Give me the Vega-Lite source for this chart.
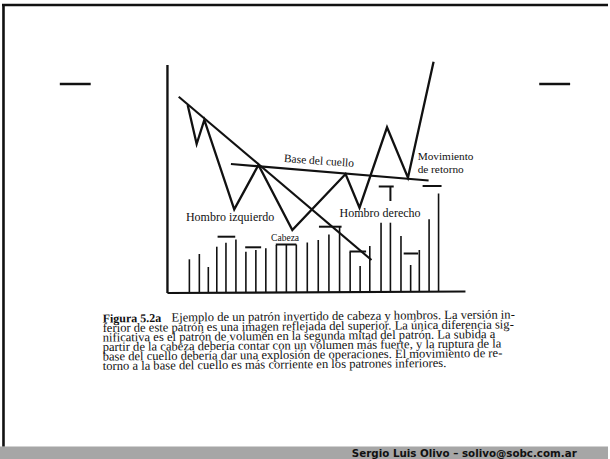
{
  "$schema": "https://vega.github.io/schema/vega-lite/v6.json",
  "width": 610,
  "height": 459,
  "autosize": {"type": "fit", "contains": "padding"},
  "padding": 0,
  "background": "white",
  "config": {"view": {"stroke": null}},
  "layer": [
    {
      "data": {"values": [{"x": 0, "x2": 610, "y": 446.5, "y2": 459}]},
      "mark": {"type": "rect", "color": "#a6a6a6"},
      "encoding": {
        "x": {"field": "x", "type": "quantitative", "scale": {"domain": [0, 610], "nice": false, "zero": false}, "axis": null},
        "x2": {"field": "x2"},
        "y": {"field": "y", "type": "quantitative", "scale": {"domain": [0, 459], "reverse": true, "nice": false, "zero": false}, "axis": null},
        "y2": {"field": "y2"}
      }
    },
    {
      "data": {"values": [
        {"kind": "marco", "x": 2, "y": 5, "x2": 610, "y2": 5},
        {"kind": "marco", "x": 3.5, "y": 5, "x2": 3.5, "y2": 446.5},
        {"kind": "guion", "x": 60, "y": 84, "x2": 91, "y2": 84},
        {"kind": "guion", "x": 541, "y": 84, "x2": 572, "y2": 84},
        {"kind": "eje", "x": 168, "y": 65, "x2": 168, "y2": 293},
        {"kind": "base", "x": 168, "y": 293, "x2": 467, "y2": 291.5},
        {"kind": "tendencia", "x": 179.3, "y": 96.7, "x2": 372.7, "y2": 260},
        {"kind": "tendencia", "x": 231.7, "y": 164, "x2": 430, "y2": 180.5},
        {"kind": "volumen", "x": 218.3, "y": 236.7, "x2": 236, "y2": 236.7},
        {"kind": "volumen", "x": 246, "y": 247.3, "x2": 262, "y2": 247.3},
        {"kind": "volumen", "x": 276.7, "y": 244.5, "x2": 297.3, "y2": 244.5},
        {"kind": "volumen", "x": 320, "y": 226.7, "x2": 342.7, "y2": 226.7},
        {"kind": "volumen", "x": 350.7, "y": 251.5, "x2": 367.3, "y2": 251.5},
        {"kind": "volumen", "x": 380, "y": 186.5, "x2": 395, "y2": 186.5},
        {"kind": "volumen", "x": 391.7, "y": 186.5, "x2": 391.7, "y2": 201},
        {"kind": "volumen", "x": 405, "y": 253.5, "x2": 419.5, "y2": 253.5},
        {"kind": "volumen", "x": 424, "y": 186, "x2": 443, "y2": 186}
      ]},
      "mark": {"type": "rule", "color": "#111111", "strokeCap": "butt"},
      "encoding": {
        "x": {"field": "x", "type": "quantitative", "scale": {"domain": [0, 610], "nice": false, "zero": false}, "axis": null},
        "x2": {"field": "x2"},
        "y": {"field": "y", "type": "quantitative", "scale": {"domain": [0, 459], "reverse": true, "nice": false, "zero": false}, "axis": null},
        "y2": {"field": "y2"},
        "strokeWidth": {"field": "kind", "type": "nominal", "legend": null,
          "scale": {"domain": ["marco", "guion", "eje", "base", "tendencia", "volumen"], "range": [2.6, 2, 1.4, 2, 2, 1.6]}}
      }
    },
    {
      "data": {"values": [
        {"x": 190, "y": 259.3}, {"x": 200, "y": 254}, {"x": 209, "y": 267}, {"x": 217.5, "y": 246.7},
        {"x": 226.7, "y": 242.7}, {"x": 236.7, "y": 239.5}, {"x": 246.7, "y": 251.7}, {"x": 256.7, "y": 250},
        {"x": 266.7, "y": 248.3}, {"x": 277.3, "y": 245}, {"x": 287.3, "y": 244.5}, {"x": 297.3, "y": 244.5},
        {"x": 308.3, "y": 242.5}, {"x": 319.3, "y": 240}, {"x": 330, "y": 234.5}, {"x": 340.7, "y": 226.7},
        {"x": 351.3, "y": 251.7}, {"x": 361.3, "y": 266}, {"x": 371, "y": 246}, {"x": 382.3, "y": 222.7},
        {"x": 391.7, "y": 222.7}, {"x": 402.3, "y": 236}, {"x": 412, "y": 265}, {"x": 420.7, "y": 250},
        {"x": 430.5, "y": 219.3}, {"x": 440, "y": 193.5}
      ]},
      "mark": {"type": "rule", "color": "#111111", "strokeWidth": 1.6, "strokeCap": "butt"},
      "encoding": {
        "x": {"field": "x", "type": "quantitative", "scale": {"domain": [0, 610], "nice": false, "zero": false}, "axis": null},
        "y": {"field": "y", "type": "quantitative", "scale": {"domain": [0, 459], "reverse": true, "nice": false, "zero": false}, "axis": null},
        "y2": {"datum": 292}
      }
    },
    {
      "data": {"values": [
        {"i": 1, "x": 188.3, "y": 105}, {"i": 2, "x": 197.3, "y": 144}, {"i": 3, "x": 205, "y": 120},
        {"i": 4, "x": 235, "y": 209.3}, {"i": 5, "x": 259.3, "y": 165}, {"i": 6, "x": 293.3, "y": 230},
        {"i": 7, "x": 346.7, "y": 174}, {"i": 8, "x": 360.7, "y": 207.7}, {"i": 9, "x": 388.3, "y": 127.3},
        {"i": 10, "x": 409.3, "y": 177.7}, {"i": 11, "x": 435, "y": 61.7}
      ]},
      "mark": {"type": "line", "color": "#111111", "strokeWidth": 2.3, "strokeJoin": "miter"},
      "encoding": {
        "x": {"field": "x", "type": "quantitative", "scale": {"domain": [0, 610], "nice": false, "zero": false}, "axis": null},
        "y": {"field": "y", "type": "quantitative", "scale": {"domain": [0, 459], "reverse": true, "nice": false, "zero": false}, "axis": null},
        "order": {"field": "i", "type": "quantitative"}
      }
    },
    {
      "data": {"values": [
        {"t": "Hombro izquierdo", "x": 186.5, "y": 216.5},
        {"t": "Hombro derecho", "x": 340.7, "y": 213}
      ]},
      "mark": {"type": "text", "align": "left", "baseline": "middle", "font": "Liberation Serif", "fontSize": 12, "color": "#111111"},
      "encoding": {
        "x": {"field": "x", "type": "quantitative", "scale": {"domain": [0, 610], "nice": false, "zero": false}, "axis": null},
        "y": {"field": "y", "type": "quantitative", "scale": {"domain": [0, 459], "reverse": true, "nice": false, "zero": false}, "axis": null},
        "text": {"field": "t"}
      }
    },
    {
      "data": {"values": [
        {"t": "Movimiento", "x": 419, "y": 156.5},
        {"t": "de retorno", "x": 419, "y": 169.5}
      ]},
      "mark": {"type": "text", "align": "left", "baseline": "middle", "font": "Liberation Serif", "fontSize": 11.3, "color": "#111111"},
      "encoding": {
        "x": {"field": "x", "type": "quantitative", "scale": {"domain": [0, 610], "nice": false, "zero": false}, "axis": null},
        "y": {"field": "y", "type": "quantitative", "scale": {"domain": [0, 459], "reverse": true, "nice": false, "zero": false}, "axis": null},
        "text": {"field": "t"}
      }
    },
    {
      "data": {"values": [{"t": "Base del cuello", "x": 320, "y": 161.5}]},
      "mark": {"type": "text", "align": "center", "baseline": "middle", "font": "Liberation Serif", "fontSize": 11.5, "angle": 4, "color": "#111111"},
      "encoding": {
        "x": {"field": "x", "type": "quantitative", "scale": {"domain": [0, 610], "nice": false, "zero": false}, "axis": null},
        "y": {"field": "y", "type": "quantitative", "scale": {"domain": [0, 459], "reverse": true, "nice": false, "zero": false}, "axis": null},
        "text": {"field": "t"}
      }
    },
    {
      "data": {"values": [{"t": "Cabeza", "x": 272, "y": 237.5}]},
      "mark": {"type": "text", "align": "left", "baseline": "middle", "font": "Liberation Serif", "fontSize": 9.5, "color": "#111111"},
      "encoding": {
        "x": {"field": "x", "type": "quantitative", "scale": {"domain": [0, 610], "nice": false, "zero": false}, "axis": null},
        "y": {"field": "y", "type": "quantitative", "scale": {"domain": [0, 459], "reverse": true, "nice": false, "zero": false}, "axis": null},
        "text": {"field": "t"}
      }
    },
    {
      "data": {"values": [{"t": "Figura 5.2a", "x": 103, "y": 322.5}]},
      "mark": {"type": "text", "align": "left", "baseline": "alphabetic", "font": "Liberation Serif", "fontWeight": "bold", "fontSize": 12, "angle": -0.5, "color": "#111111"},
      "encoding": {
        "x": {"field": "x", "type": "quantitative", "scale": {"domain": [0, 610], "nice": false, "zero": false}, "axis": null},
        "y": {"field": "y", "type": "quantitative", "scale": {"domain": [0, 459], "reverse": true, "nice": false, "zero": false}, "axis": null},
        "text": {"field": "t"}
      }
    },
    {
      "data": {"values": [
        {"t": "Ejemplo de un patrón invertido de cabeza y hombros. La versión in-", "x": 172, "y": 321.5},
        {"t": "ferior de este patrón es una imagen reflejada del superior. La única diferencia sig-", "x": 103, "y": 332},
        {"t": "nificativa es el patrón de volumen en la segunda mitad del patrón. La subida a", "x": 103, "y": 341.5},
        {"t": "partir de la cabeza debería contar con un volumen más fuerte, y  la ruptura de la", "x": 103, "y": 351},
        {"t": "base del cuello debería dar una explosión de operaciones. El movimiento de re-", "x": 103, "y": 360.5},
        {"t": "torno a la base del cuello es más corriente en los  patrones inferiores.", "x": 103, "y": 370}
      ]},
      "mark": {"type": "text", "align": "left", "baseline": "alphabetic", "font": "Liberation Serif", "fontSize": 12.6, "angle": -0.5, "color": "#111111"},
      "encoding": {
        "x": {"field": "x", "type": "quantitative", "scale": {"domain": [0, 610], "nice": false, "zero": false}, "axis": null},
        "y": {"field": "y", "type": "quantitative", "scale": {"domain": [0, 459], "reverse": true, "nice": false, "zero": false}, "axis": null},
        "text": {"field": "t"}
      }
    },
    {
      "data": {"values": [{"t": "Sergio Luis Olivo – solivo@sobc.com.ar", "x": 353, "y": 453.5}]},
      "mark": {"type": "text", "align": "left", "baseline": "middle", "font": "DejaVu Sans", "fontWeight": "bold", "fontSize": 10.3, "color": "#111111"},
      "encoding": {
        "x": {"field": "x", "type": "quantitative", "scale": {"domain": [0, 610], "nice": false, "zero": false}, "axis": null},
        "y": {"field": "y", "type": "quantitative", "scale": {"domain": [0, 459], "reverse": true, "nice": false, "zero": false}, "axis": null},
        "text": {"field": "t"}
      }
    }
  ]
}
